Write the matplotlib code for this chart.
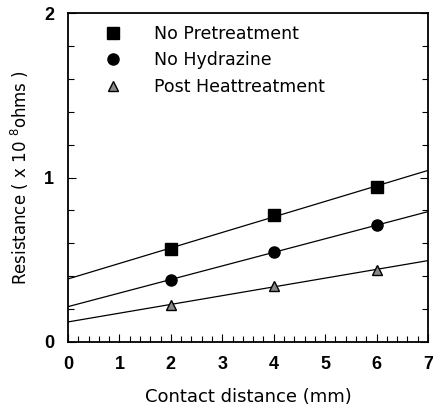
import matplotlib.pyplot as plt
import numpy as np
from matplotlib.ticker import MultipleLocator

plt.rcParams['font.family'] = ['DejaVu Sans']

# contact distance (mm)
distance = [2, 4, 6]

# resistance (x 10^8 ohms)
no_pretreatment = [0.565, 0.774, 0.942]
no_hydrazine = [0.379, 0.547, 0.709]
post_heat = [0.227, 0.338, 0.440]

series = [
    ("No Pretreatment", no_pretreatment, "s", "black"),
    ("No Hydrazine", no_hydrazine, "o", "black"),
    ("Post Heattreatment", post_heat, "^", "#888888"),
]

fig = plt.figure(figsize=(4.33, 4.08), dpi=100)
ax = fig.add_axes([68 / 433, 1 - 342 / 408, 360 / 433, 329 / 408])

xfit = np.linspace(0, 7, 50)
for name, vals, mk, fc in series:
    slope, icpt = np.polyfit(distance, vals, 1)
    ax.plot(xfit, slope * xfit + icpt, color="black", lw=0.9)
    ax.plot(distance, vals, mk, ms=8 if mk != "^" else 7, mfc=fc, mec="black",
            mew=1.0, ls="none", label=name)

ax.set_xlim(0, 7)
ax.set_ylim(0, 2)
ax.xaxis.set_major_locator(MultipleLocator(1))
ax.xaxis.set_minor_locator(MultipleLocator(0.2))
ax.yaxis.set_major_locator(MultipleLocator(1))
ax.yaxis.set_minor_locator(MultipleLocator(0.2))
ax.tick_params(which="both", direction="in", top=False, right=True, width=0.8)
ax.tick_params(which="major", length=6, labelsize=13, pad=10)
ax.tick_params(which="minor", length=4)
for lab in ax.get_xticklabels() + ax.get_yticklabels():
    lab.set_fontweight("bold")
    lab.set_family("Liberation Sans")
for sp in ax.spines.values():
    sp.set_linewidth(1.3)

ax.set_xlabel("Contact distance (mm)", fontsize=13, labelpad=11)
ax.set_ylabel("Resistance ( x 10 $^{8}$ohms )", fontsize=12, labelpad=9)

ax.legend(loc="upper left", frameon=False, fontsize=12.5, handletextpad=1.35,
          labelspacing=0.5, borderaxespad=0.27, bbox_to_anchor=(0.045, 1.0))

fig.savefig("out.png", dpi=100)
